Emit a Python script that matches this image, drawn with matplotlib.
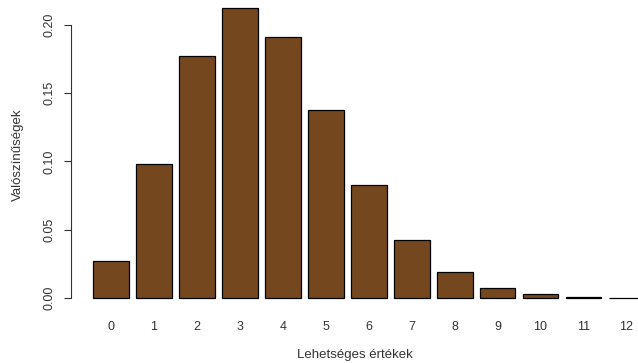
import matplotlib
matplotlib.use("Agg")
import matplotlib.pyplot as plt

plt.rcParams['font.family'] = ['Liberation Sans', 'DejaVu Sans']

# lehetséges értékek és valószínűségek (leolvasva)
ertekek = ['0', '1', '2', '3', '4', '5', '6', '7', '8', '9', '10', '11', '12']
valoszinusegek = [0.0273, 0.0984, 0.1771, 0.2125, 0.1912, 0.1377, 0.0826,
                  0.0425, 0.0191, 0.0076, 0.0028, 0.0009, 0.0003]
y_ticks = [0.00, 0.05, 0.10, 0.15, 0.20]

W, H = 638, 363
fig = plt.figure(figsize=(W / 100, H / 100), dpi=100)
# R barplot-szerű elrendezés (pixelben becsülve)
left, bottom_px, right = 71, 309.6, 638
ax = fig.add_axes([left / W, (H - bottom_px) / H, (right - left) / W, bottom_px / H])

centers = [0.7 + 1.2 * i for i in range(len(ertekek))]
ax.bar(centers, valoszinusegek, width=1.0, color='#75471E',
       edgecolor='black', linewidth=0.9)

ax.set_xlim(-0.416, -0.416 + (right - left) / 35.8)
ax.set_ylim(-0.0085, 0.2183)

ax.set_xticks(centers)
ax.set_xticklabels(ertekek, fontsize=9, color='#333333')
ax.tick_params(axis='x', length=0, pad=8)

ax.set_yticks(y_ticks)
ax.set_yticklabels([f"{v:.2f}" for v in y_ticks], rotation=90, va='center',
                   fontsize=9, color='#333333')
ax.tick_params(axis='y', length=5, width=0.8, pad=6, color='#333333')

for s in ['top', 'right', 'bottom']:
    ax.spines[s].set_visible(False)
ax.spines['left'].set_bounds(0, 0.2)
ax.spines['left'].set_linewidth(0.8)
ax.spines['left'].set_color('#333333')

ax.set_xlabel("Lehetséges értékek", fontsize=9.5, color='#333333')
ax.xaxis.set_label_coords((355 - left) / (right - left), (bottom_px - 349) / bottom_px)
ax.set_ylabel("Valószínűségek", fontsize=9.5, color='#333333')
ax.yaxis.set_label_coords((24 - left) / (right - left), (bottom_px - 155) / bottom_px)

plt.savefig("out.png", dpi=100)
